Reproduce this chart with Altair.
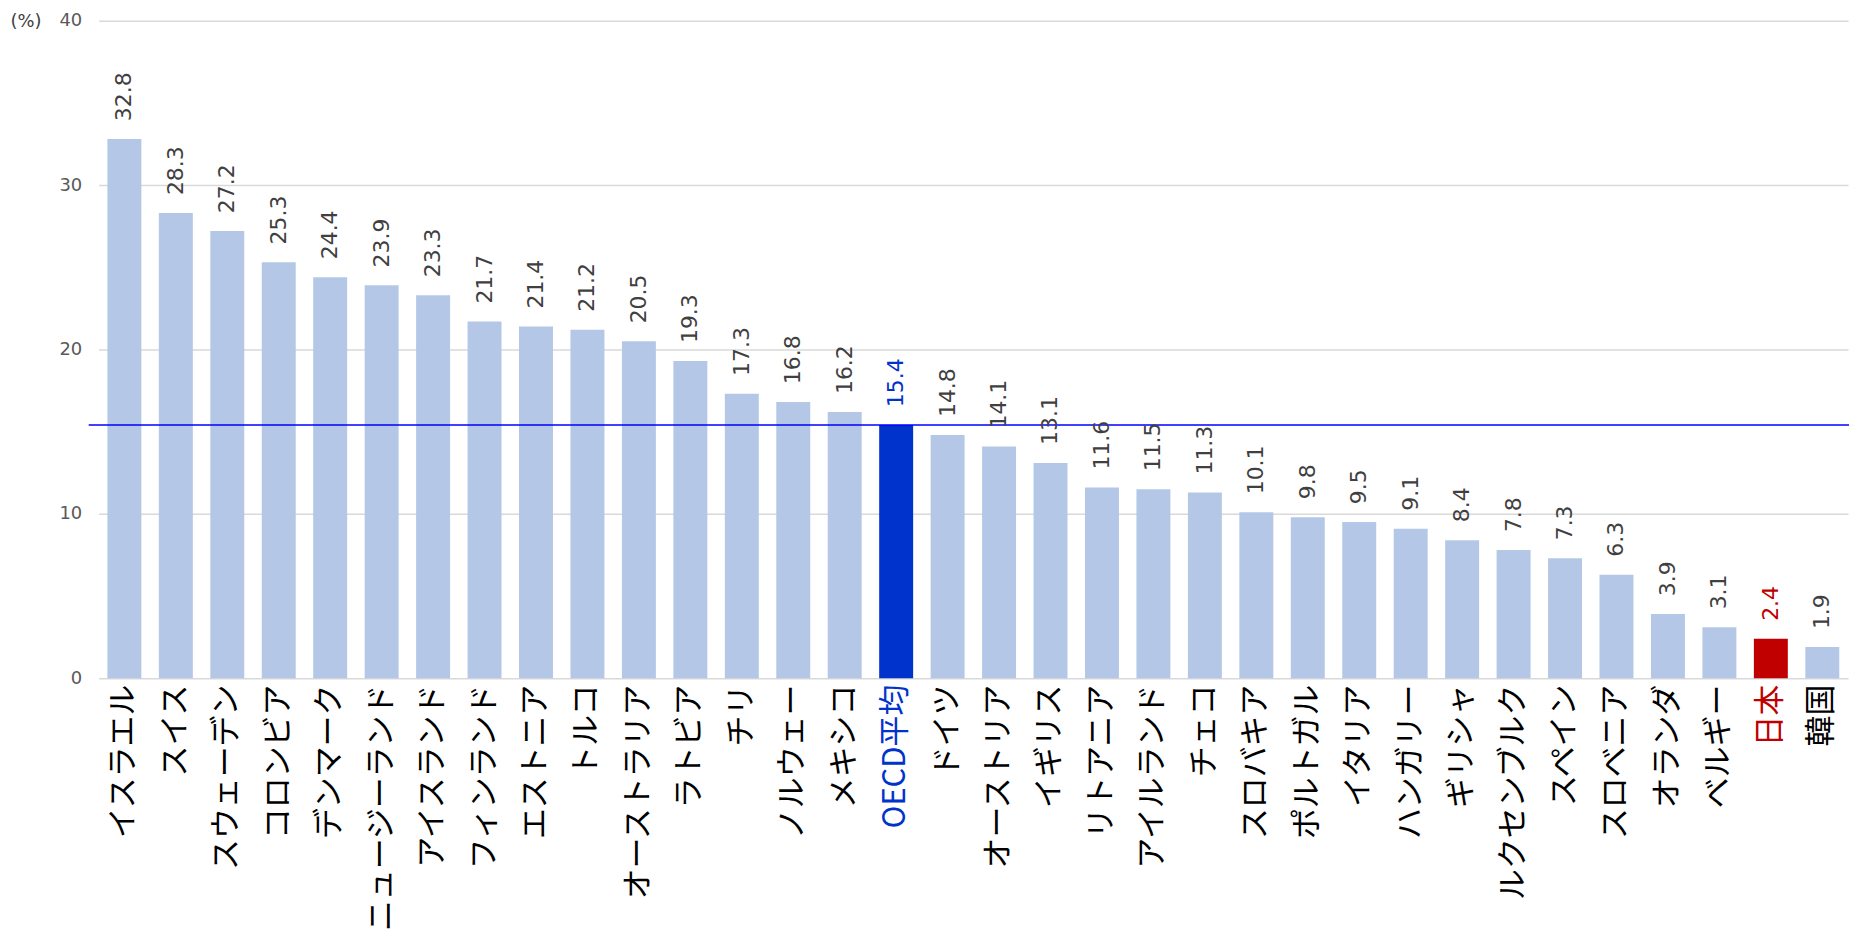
import altair as alt
import pandas as pd

countries = ["イスラエル", "スイス", "スウェーデン", "コロンビア", "デンマーク", "ニュージーランド",
             "アイスランド", "フィンランド", "エストニア", "トルコ", "オーストラリア", "ラトビア",
             "チリ", "ノルウェー", "メキシコ", "OECD平均", "ドイツ", "オーストリア", "イギリス",
             "リトアニア", "アイルランド", "チェコ", "スロバキア", "ポルトガル", "イタリア",
             "ハンガリー", "ギリシャ", "ルクセンブルク", "スペイン", "スロベニア", "オランダ",
             "ベルギー", "日本", "韓国"]
values = [32.8, 28.3, 27.2, 25.3, 24.4, 23.9, 23.3, 21.7, 21.4, 21.2, 20.5, 19.3,
          17.3, 16.8, 16.2, 15.4, 14.8, 14.1, 13.1, 11.6, 11.5, 11.3, 10.1, 9.8, 9.5,
          9.1, 8.4, 7.8, 7.3, 6.3, 3.9, 3.1, 2.4, 1.9]
oecd_avg = [15.4]
y_ticks = [0, 10, 20, 30, 40]

def group(c):
    if c == "OECD平均":
        return "oecd"
    if c == "日本":
        return "japan"
    return "other"

df = pd.DataFrame({"country": countries, "value": values,
                   "group": [group(c) for c in countries]})
avg_df = pd.DataFrame({"avg": oecd_avg})

W, H = 1756, 660
FONT = "Noto Sans CJK JP"
NUMFONT = "DejaVu Sans"

x = alt.X("country:N", sort=None, title=None,
          scale=alt.Scale(paddingInner=0.34, paddingOuter=0.17),
          axis=alt.Axis(labelAngle=270, labelFontSize=31, labelFont=FONT,
                        labelColor=alt.expr("datum.value == 'OECD平均' ? '#0033CC' : datum.value == '日本' ? '#C00000' : '#000000'"),
                        labelPadding=6, ticks=False, domain=False, labelLimit=400))
y = alt.Y("value:Q", scale=alt.Scale(domain=[0, 40], nice=False),
          axis=alt.Axis(values=y_ticks, title="(%)", titleAngle=0, titleX=-89, titleY=1,
                        titleAlign="left", titleBaseline="middle", titleFontSize=18,
                        titleFontWeight="normal", titleColor="#404040", titleFont=NUMFONT,
                        labelFontSize=18, labelColor="#595959", labelFont=NUMFONT,
                        labelPadding=17, ticks=False, domain=False,
                        gridColor="#D9D9D9", gridWidth=1.5))

color_scale = alt.Scale(domain=["other", "oecd", "japan"],
                        range=["#B4C7E7", "#0033CC", "#C00000"])
text_scale = alt.Scale(domain=["other", "oecd", "japan"],
                       range=["#404040", "#0033CC", "#C00000"])

bars = alt.Chart(df).mark_bar().encode(
    x=x, y=y, color=alt.Color("group:N", scale=color_scale, legend=None))

labels = alt.Chart(df).mark_text(angle=270, align="left", baseline="middle", dx=18,
                                 fontSize=22, font=NUMFONT).encode(
    x=alt.X("country:N", sort=None),
    y=alt.Y("value:Q"),
    text=alt.Text("value:Q", format=".1f"),
    color=alt.Color("group:N", scale=text_scale, legend=None))

rule = alt.Chart(avg_df).mark_rule(color="#0000FF", strokeWidth=1.5).encode(
    y=alt.Y("avg:Q"), x=alt.value(-10), x2=alt.value(W + 1))

chart = alt.layer(bars, rule, labels).resolve_scale(color="independent").properties(
    width=W, height=H,
    autosize=alt.AutoSizeParams(type="none"),
    padding={"left": 91, "top": 11, "right": 6, "bottom": 262},
).configure_view(stroke=None)

chart.save("out.html", embed_options={"renderer": "svg", "actions": False})
